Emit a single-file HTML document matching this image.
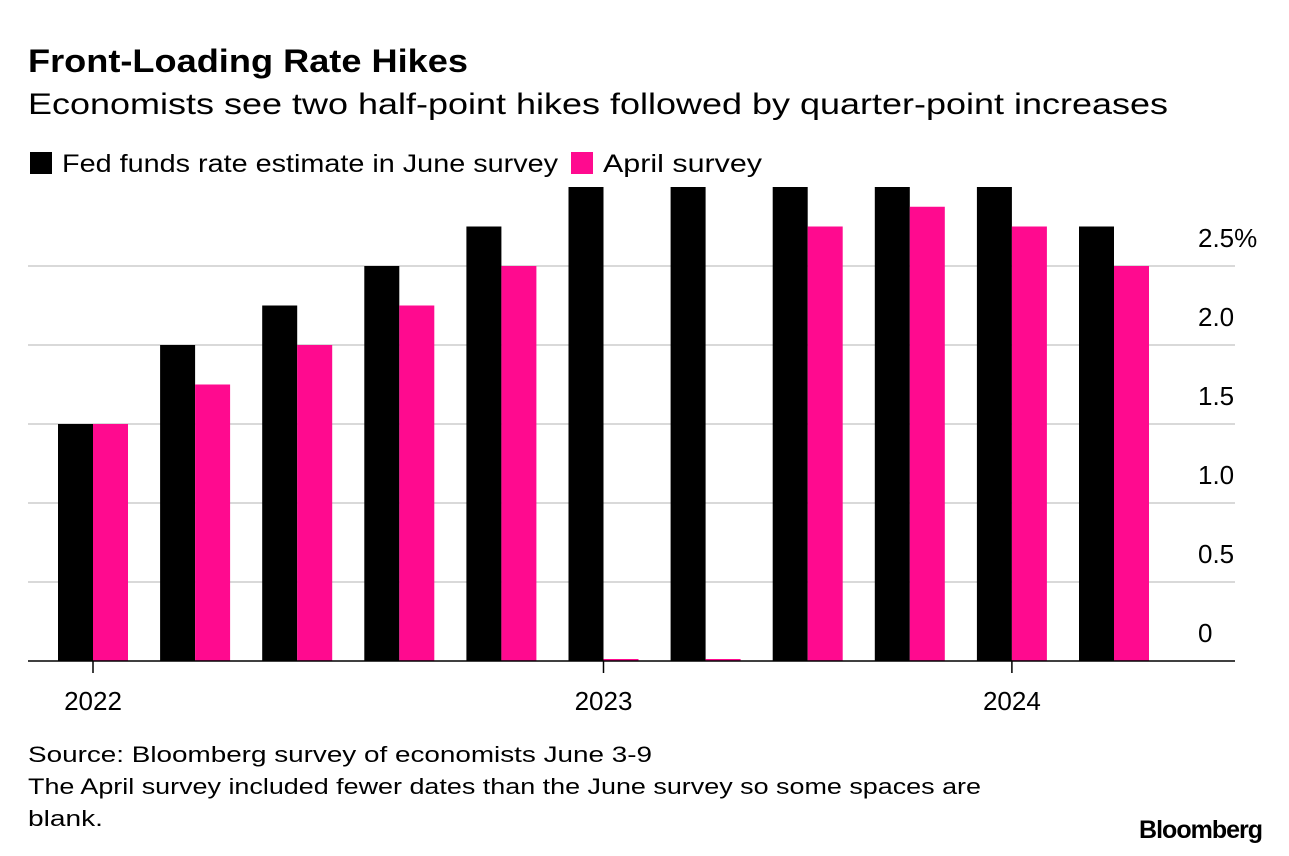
<!DOCTYPE html>
<html><head><meta charset="utf-8">
<style>
body{margin:0;background:#fff;width:1289px;height:856px;overflow:hidden;font-family:"Liberation Sans",Arial,sans-serif;}
svg{display:block}
</style></head>
<body>
<svg width="1289" height="856">
<text x="28" y="72" font-size="32" font-weight="bold" fill="#000" textLength="440" lengthAdjust="spacingAndGlyphs">Front-Loading Rate Hikes</text>
<text x="28" y="114" font-size="30" fill="#000" textLength="1140" lengthAdjust="spacingAndGlyphs">Economists see two half-point hikes followed by quarter-point increases</text>
<g>
<rect x="30" y="152" width="22" height="22" fill="#000"/>
<text x="62" y="172" font-size="25" textLength="496" lengthAdjust="spacingAndGlyphs">Fed funds rate estimate in June survey</text>
<rect x="571" y="152" width="22" height="22" fill="#ff0a8f"/>
<text x="603" y="172" font-size="25" textLength="159" lengthAdjust="spacingAndGlyphs">April survey</text>
</g>
<g id="grid"></g>
<g id="bars"></g>
<g id="xaxis"></g>
<text x="28" y="762" font-size="22" textLength="624" lengthAdjust="spacingAndGlyphs">Source: Bloomberg survey of economists June 3-9</text>
<text x="28" y="794" font-size="22" textLength="953" lengthAdjust="spacingAndGlyphs">The April survey included fewer dates than the June survey so some spaces are</text>
<text x="28" y="826" font-size="22" textLength="75" lengthAdjust="spacingAndGlyphs">blank.</text>
<text x="1262" y="838" font-size="25" font-weight="bold" text-anchor="end" letter-spacing="-1">Bloomberg</text>
</svg>
<script>
const june = [1.5, 2.0, 2.25, 2.5, 2.75, 3.0, 3.0, 3.0, 3.0, 3.0, 2.75];
const april = [1.5, 1.75, 2.0, 2.25, 2.5, 0, 0, 2.75, 2.875, 2.75, 2.5];
const yTicks = [0, 0.5, 1.0, 1.5, 2.0, 2.5];
const yTickLabels = ["0", "0.5", "1.0", "1.5", "2.0", "2.5%"];
const xLabels = ["2022", "2023", "2024"];
const xLabelIdx = [0, 5, 9];

const NS = "http://www.w3.org/2000/svg";
const y0 = 661, pxPer = 158;
const yScale = v => y0 - v * pxPer;
const xScale = i => 58 + i * 102.1;
const bw = 35;
function mk(tag, attrs, parent) {
  const e = document.createElementNS(NS, tag);
  for (const k in attrs) e.setAttribute(k, attrs[k]);
  parent.appendChild(e);
  return e;
}
const grid = document.getElementById('grid');
yTicks.forEach((t, i) => {
  if (t > 0) {
    const l = mk('line', {x1: 28, x2: 1235, y1: yScale(t), y2: yScale(t), stroke: '#d9d9d9', 'stroke-width': 2}, grid);
    
    
  }
  const tx = mk('text', {x: 1198, y: yScale(t) - 19, 'font-size': 26}, grid);
  tx.textContent = yTickLabels[i];
  
  
});
const bars = document.getElementById('bars');
june.forEach((v, i) => {
  const r = mk('rect', {x: xScale(i), y: yScale(v), width: bw, height: v * pxPer, fill: '#000'}, bars);
  
  
});
april.forEach((v, i) => {
  const h = Math.max(v * pxPer, 2);
  const r = mk('rect', {x: xScale(i) + bw, y: y0 - h, width: bw, height: h, fill: '#ff0a8f'}, bars);
  
  
});
const xa = document.getElementById('xaxis');
const base = mk('line', {x1: 28, x2: 1235, y1: y0, y2: y0, stroke: '#000', 'stroke-width': 1.5}, xa);


xLabels.forEach((lab, k) => {
  const cx = xScale(xLabelIdx[k]) + bw;
  const t = mk('line', {x1: cx, x2: cx, y1: y0, y2: y0 + 12, stroke: '#000', 'stroke-width': 1.5}, xa);
  
  
  const tx = mk('text', {x: cx, y: 710, 'font-size': 26, 'text-anchor': 'middle'}, xa);
  tx.textContent = lab;
  
  
});
</script>
</body></html>
